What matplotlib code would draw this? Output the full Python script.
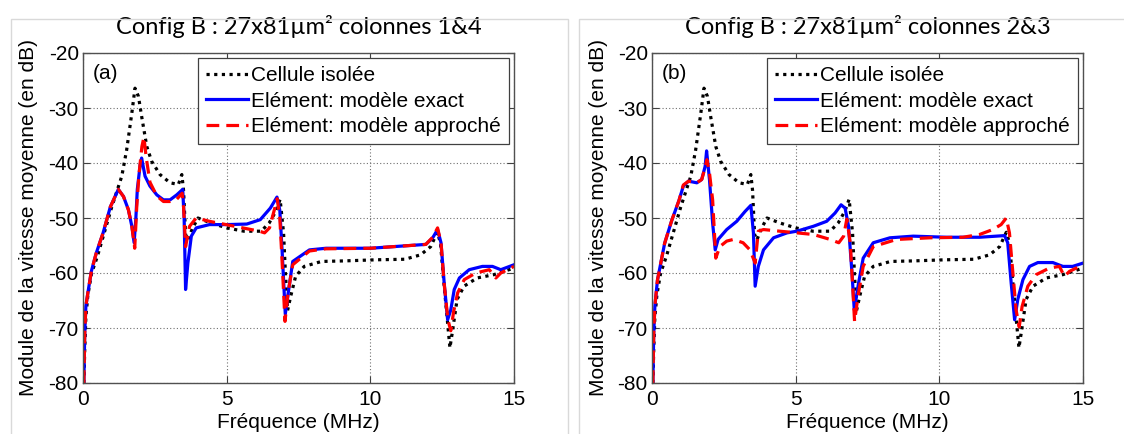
import matplotlib
matplotlib.use("Agg")
import matplotlib.pyplot as plt
from matplotlib.patches import Rectangle

plt.rcParams['font.family'] = ['Liberation Sans', 'DejaVu Sans']
plt.rcParams['axes.unicode_minus'] = False

# Cellule isolée (same curve on both panels)
f_cell = [0.03, 0.06, 0.1, 0.17, 0.3, 0.5, 0.75, 1.0, 1.2, 1.35, 1.52, 1.7, 1.81, 1.93, 2.04,
          2.22, 2.39, 2.68, 3.03, 3.32, 3.44, 3.5, 3.57, 3.65, 3.8, 4.0, 4.45, 5.0, 5.6, 6.2,
          6.48, 6.71, 6.86, 6.98, 7.05, 7.12, 7.23, 7.4, 7.7, 8.3, 9.1, 10.2, 11.2, 11.75, 12.1,
          12.33, 12.44, 12.56, 12.7, 12.77, 12.85, 13.02, 13.26, 13.72, 14.3, 14.65, 15.0]
db_cell = [-80, -74, -68, -64, -60, -57, -52.5, -48, -44.8, -42.4, -37.6, -30.9, -26.4, -27.9, -31.5,
           -37, -39.7, -42.1, -43.6, -43.9, -42.1, -45, -53, -54, -52, -50, -50.9, -51.8, -52.4, -52.4,
           -50.9, -48.8, -46.6, -52.7, -60.6, -66.8, -64.2, -60.6, -58.8, -57.9, -57.8, -57.6, -57.5, -56.7, -55.2,
           -52.6, -54.5, -61.8, -69.7, -73.6, -70.9, -64.8, -62.4, -60.9, -60.3, -59.7, -59.1]

# (a) colonnes 1&4
f_a_exact = [0.03, 0.06, 0.1, 0.17, 0.29, 0.46, 0.7, 0.95, 1.23, 1.41, 1.58, 1.7, 1.78, 1.84, 1.89,
             1.99, 2.04, 2.16, 2.33, 2.57, 2.8, 3.03, 3.26, 3.47, 3.52, 3.57, 3.65, 3.77, 3.94, 4.4,
             5.0, 5.7, 6.17, 6.52, 6.75, 6.85, 6.93, 7.04, 7.14, 7.3, 7.88, 8.46, 10.0, 11.93, 12.17,
             12.34, 12.46, 12.57, 12.69, 12.8, 12.92, 13.1, 13.44, 13.9, 14.25, 14.54, 15.0]
db_a_exact = [-80, -71, -66, -63.6, -59.7, -56.4, -52.7, -48, -44.8, -46.1, -48.5, -51.5, -54.5, -50, -44.8,
              -40.3, -39.1, -42.4, -44.2, -45.8, -46.7, -46.7, -45.8, -44.8, -50, -63, -58.2, -53.3, -51.8, -51.2,
              -51.2, -51.1, -50.3, -48.2, -46.2, -48.6, -56, -67.5, -63.7, -57.9, -55.8, -55.5, -55.5, -54.8, -53.6,
              -52.1, -54.5, -61.8, -68.5, -66.7, -63, -60.9, -59.4, -58.8, -58.8, -59.4, -58.5]

f_a_approx = [0.03, 0.06, 0.1, 0.17, 0.29, 0.46, 0.7, 0.95, 1.23, 1.41, 1.58, 1.7, 1.8, 1.87, 1.95,
              2.05, 2.12, 2.2, 2.33, 2.57, 2.8, 3.03, 3.26, 3.45, 3.5, 3.57, 3.71, 3.94, 4.4, 4.98,
              5.56, 6.14, 6.32, 6.49, 6.66, 6.76, 6.85, 6.93, 7.03, 7.14, 7.3, 7.88, 8.46, 10.0, 11.93,
              12.17, 12.34, 12.46, 12.57, 12.7, 12.8, 12.9, 13.04, 13.27, 13.67, 14.14, 14.37, 14.54, 15.0]
db_a_approx = [-80, -71, -66, -63.6, -59.7, -56.4, -52.7, -48, -44.8, -46.1, -48.5, -51.5, -55.5, -48, -42,
               -37, -35.3, -39, -43.5, -46, -47, -47, -46.6, -45.5, -48, -55.2, -51.5, -50, -50.6, -51.2,
               -51.8, -52.4, -52.7, -51.8, -48.5, -46.5, -50, -58, -68.8, -63.5, -58.5, -56, -55.6, -55.5, -54.8,
               -53.5, -51.8, -54.5, -62, -68.5, -70.5, -67, -63.6, -61.2, -60, -59.4, -60.9, -60, -58.8]

# (b) colonnes 2&3
f_b_exact = [0.03, 0.06, 0.1, 0.19, 0.44, 0.69, 0.94, 1.09, 1.27, 1.56, 1.73, 1.85, 1.9, 2.0, 2.11,
             2.2, 2.3, 2.6, 2.95, 3.24, 3.44, 3.53, 3.59, 3.7, 3.88, 4.23, 4.7, 5.04, 5.62, 6.08,
             6.37, 6.58, 6.72, 6.84, 6.96, 7.04, 7.19, 7.35, 7.7, 8.28, 9.09, 10.25, 11.4, 12.27, 12.38,
             12.5, 12.62, 12.73, 12.91, 13.14, 13.43, 13.95, 14.3, 14.64, 15.0]
db_b_exact = [-80, -71, -66, -61.3, -54.6, -50.4, -46.8, -44.2, -43.3, -43.6, -43, -40.6, -37.8, -43, -50.9,
              -55.8, -53.9, -52.1, -50.6, -48.8, -47.7, -52.7, -62.4, -58.8, -55.8, -53.6, -52.7, -52.4, -51.5, -50.6,
              -49.1, -47.6, -48.2, -51.5, -60, -66.7, -61.8, -57.3, -54.5, -53.6, -53.3, -53.5, -53.5, -53.2, -54.5,
              -61.8, -68.5, -64.8, -61.2, -58.8, -58.1, -58.1, -58.8, -58.8, -58.2]

f_b_approx = [0.03, 0.06, 0.1, 0.19, 0.44, 0.69, 0.94, 1.09, 1.27, 1.56, 1.73, 1.85, 1.91, 2.0, 2.11,
              2.22, 2.36, 2.6, 2.83, 3.17, 3.41, 3.5, 3.59, 3.7, 3.88, 4.45, 5.04, 5.62, 6.2, 6.5,
              6.67, 6.78, 6.9, 6.99, 7.05, 7.17, 7.35, 7.7, 8.51, 9.67, 10.82, 11.4, 11.86, 12.15, 12.33,
              12.44, 12.56, 12.67, 12.78, 12.88, 13.08, 13.37, 13.83, 14.18, 14.35, 14.53, 15.0]
db_b_approx = [-80, -71, -66, -61.3, -54.6, -50.4, -46.8, -44, -43.3, -43.6, -43, -40.8, -39.4, -41.8, -46.7,
               -57.3, -55.2, -54.2, -53.9, -54.5, -55.8, -57, -58.2, -52.4, -52.1, -52.4, -52.7, -53, -53.9, -54.5,
               -53.3, -50.2, -54.5, -63, -68.8, -64.2, -58.8, -55.2, -53.9, -53.6, -53.5, -53, -52.1, -51.2, -50,
               -52.7, -60, -66.7, -69.8, -66.1, -62.4, -60.3, -59.1, -58.8, -60.6, -59.7, -58.5]

titles = ['Config B : 27x81µm² colonnes 1&4', 'Config B : 27x81µm² colonnes 2&3']
tags = ['(a)', '(b)']
labels = ['Cellule isolée', 'Elément: modèle exact', 'Elément: modèle approché']
exact = [(f_a_exact, db_a_exact), (f_b_exact, db_b_exact)]
approx = [(f_a_approx, db_a_approx), (f_b_approx, db_b_approx)]

W, H = 1124, 434
fig = plt.figure(figsize=(W / 100, H / 100), dpi=100)

# light grey frames around each sub-figure
fig.add_artist(Rectangle((11 / W, -0.05), (568 - 11) / W, 1.05 - 19 / H, transform=fig.transFigure,
                         fill=False, edgecolor='#d9d9d9', lw=1))
fig.add_artist(Rectangle((579 / W, -0.05), 0.5, 1.05 - 19 / H, transform=fig.transFigure,
                         fill=False, edgecolor='#d9d9d9', lw=1))

fs = 15
lefts = [83, 652]
for i in range(2):
    ax = fig.add_axes([lefts[i] / W, 1 - 383 / H, 431 / W, 330 / H])
    ax.plot(f_cell, db_cell, color='black', lw=2.3, linestyle=(0, (1, 1.4)), label=labels[0])
    ax.plot(*exact[i], color='#0000ff', lw=2.3, label=labels[1])
    ax.plot(*approx[i], color='#ff0000', lw=2.3, linestyle=(0, (4, 2.2)), label=labels[2])

    ax.set_xlim(0, 15)
    ax.set_ylim(-80, -20)
    ax.set_xticks([0, 5, 10, 15])
    ax.set_yticks(range(-80, -19, 10))
    ax.grid(True, color='#707070', linestyle=(0, (1, 2)), lw=0.8)
    ax.tick_params(direction='in', top=True, right=True, length=5, labelsize=fs, width=0.8,
                   color='#404040', pad=3)
    ax.tick_params(axis='x', pad=5)
    for s in ax.spines.values():
        s.set_color('#505050')
        s.set_linewidth(1.0)

    ax.set_ylabel('Module de la vitesse moyenne (en dB)', fontsize=fs)
    ax.yaxis.label.set_va('center')
    ax.yaxis.set_label_coords(-54 / 431, 0.5)
    ax.set_xlabel('Fréquence (MHz)', fontsize=fs)
    ax.xaxis.label.set_va('center')
    ax.xaxis.set_label_coords(0.5, -40 / 330)

    ax.text(0.5, 1 + 26 / 330, titles[i], transform=ax.transAxes, ha='center', va='center',
            fontsize=17, family=['Lato', 'DejaVu Sans'])
    ax.text(0.052, 0.939, tags[i], transform=ax.transAxes, ha='center', va='center', fontsize=fs)

    leg = ax.legend(loc='upper right', fontsize=fs, handlelength=2.0, handletextpad=0.15,
                    labelspacing=0.32, borderpad=0.38, borderaxespad=0.25, fancybox=False,
                    framealpha=1, edgecolor='#404040')
    leg.get_frame().set_linewidth(0.9)

fig.savefig('out.png', dpi=100)
